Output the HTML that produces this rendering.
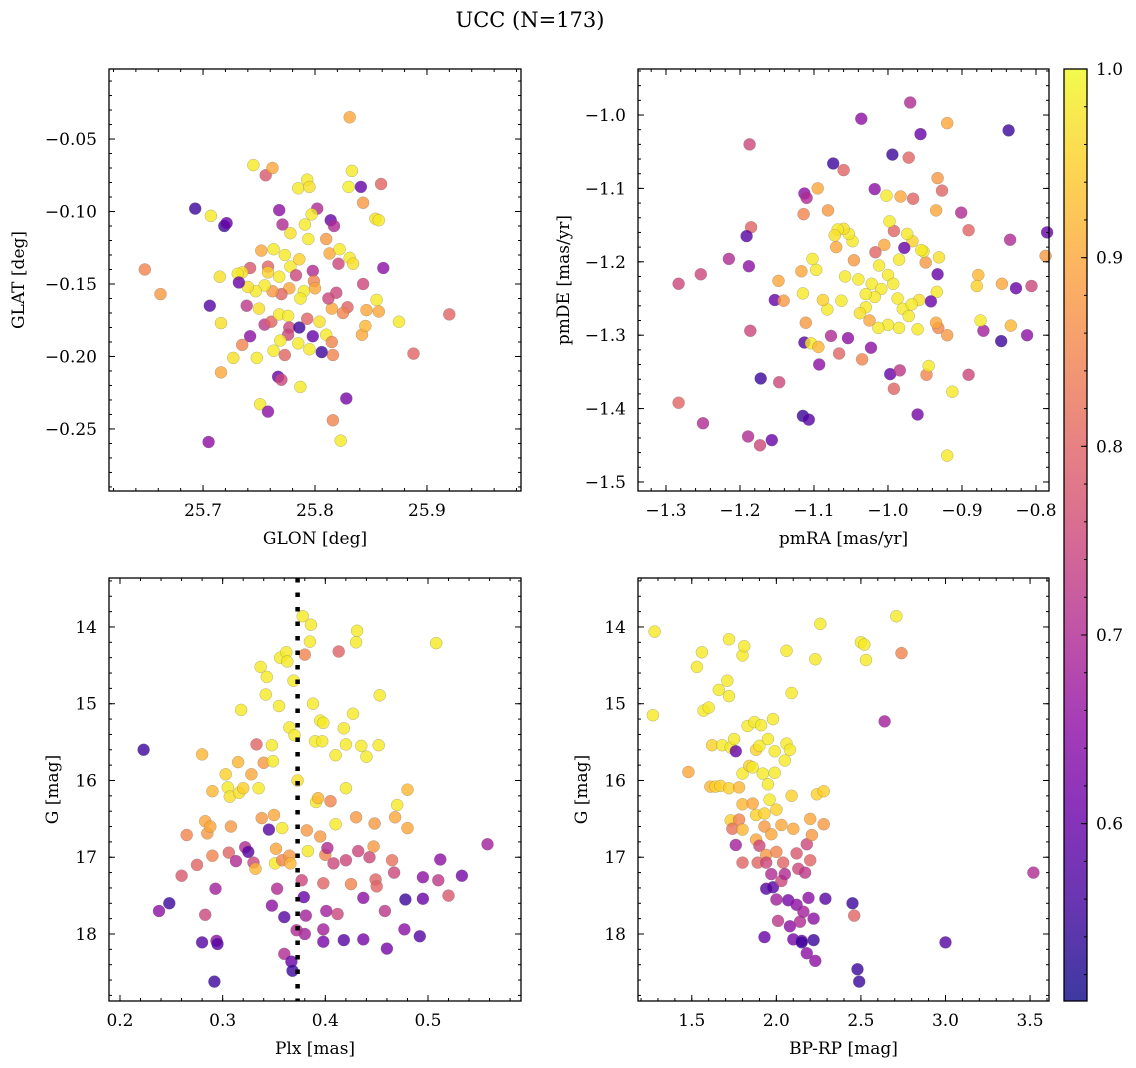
<!DOCTYPE html>
<html><head><meta charset="utf-8"><style>
body{margin:0;background:#fff;}
svg{display:block;font-family:"DejaVu Serif","Liberation Serif",serif;}
</style></head><body>
<svg id="fig" width="1136" height="1068" viewBox="0 0 1136 1068" xmlns="http://www.w3.org/2000/svg">
<rect width="1136" height="1068" fill="#fff"/>
<text x="530" y="27" font-size="21" text-anchor="middle">UCC (N=173)</text>
</svg>
<script>
// ---- data: [x, y, membership probability]
const glonGlat = [[25.831,-0.035,0.9],[25.648,-0.140,0.85],[25.662,-0.157,0.88],[25.693,-0.098,0.55],[25.707,-0.103,0.98],[25.719,-0.110,0.55],[25.721,-0.108,0.6],[25.706,-0.165,0.58],[25.715,-0.145,0.97],[25.716,-0.177,0.97],[25.716,-0.211,0.9],[25.705,-0.259,0.65],[25.727,-0.201,0.97],[25.745,-0.068,0.98],[25.756,-0.075,0.78],[25.762,-0.070,0.9],[25.785,-0.084,0.98],[25.793,-0.078,0.98],[25.795,-0.083,0.97],[25.830,-0.083,0.99],[25.833,-0.072,0.98],[25.843,-0.094,0.88],[25.841,-0.083,0.6],[25.859,-0.081,0.8],[25.854,-0.105,0.97],[25.857,-0.106,0.98],[25.814,-0.106,0.6],[25.817,-0.110,0.7],[25.802,-0.098,0.7],[25.797,-0.102,0.98],[25.791,-0.109,0.98],[25.768,-0.099,0.65],[25.771,-0.109,0.7],[25.778,-0.115,0.97],[25.794,-0.119,0.98],[25.810,-0.119,0.88],[25.813,-0.129,0.9],[25.822,-0.126,0.98],[25.831,-0.132,0.98],[25.834,-0.136,0.97],[25.821,-0.136,0.75],[25.752,-0.127,0.9],[25.763,-0.126,0.98],[25.742,-0.139,0.78],[25.735,-0.142,0.97],[25.731,-0.143,0.98],[25.758,-0.138,0.8],[25.768,-0.145,0.98],[25.778,-0.138,0.98],[25.783,-0.144,0.75],[25.798,-0.141,0.7],[25.799,-0.148,0.85],[25.861,-0.139,0.65],[25.843,-0.150,0.75],[25.855,-0.161,0.98],[25.846,-0.168,0.9],[25.857,-0.169,0.9],[25.875,-0.176,0.98],[25.920,-0.171,0.8],[25.888,-0.198,0.8],[25.829,-0.166,0.8],[25.825,-0.170,0.85],[25.815,-0.167,0.9],[25.812,-0.160,0.75],[25.819,-0.156,0.75],[25.800,-0.153,0.9],[25.790,-0.155,0.98],[25.787,-0.160,0.98],[25.777,-0.153,0.9],[25.770,-0.157,0.8],[25.762,-0.155,0.88],[25.755,-0.151,0.98],[25.747,-0.155,0.98],[25.740,-0.152,0.97],[25.732,-0.149,0.6],[25.739,-0.165,0.72],[25.750,-0.167,0.97],[25.755,-0.178,0.72],[25.761,-0.176,0.8],[25.768,-0.171,0.98],[25.776,-0.172,0.98],[25.777,-0.180,0.75],[25.786,-0.180,0.55],[25.793,-0.174,0.8],[25.798,-0.186,0.6],[25.804,-0.176,0.97],[25.810,-0.185,0.98],[25.815,-0.190,0.85],[25.816,-0.199,0.85],[25.806,-0.197,0.55],[25.795,-0.195,0.98],[25.785,-0.191,0.98],[25.776,-0.185,0.75],[25.769,-0.189,0.98],[25.763,-0.196,0.98],[25.773,-0.199,0.8],[25.742,-0.186,0.65],[25.735,-0.192,0.85],[25.748,-0.201,0.98],[25.751,-0.233,0.98],[25.758,-0.238,0.65],[25.767,-0.214,0.6],[25.770,-0.216,0.75],[25.787,-0.221,0.98],[25.816,-0.244,0.85],[25.823,-0.258,0.98],[25.828,-0.229,0.62],[25.842,-0.185,0.9],[25.845,-0.179,0.92],[25.786,-0.133,0.95],[25.773,-0.130,0.98],[25.758,-0.142,0.95]];
const pmRaDe = [[-0.970,-0.983,0.7],[-0.920,-1.011,0.9],[-1.036,-1.005,0.65],[-0.837,-1.021,0.55],[-0.956,-1.026,0.6],[-0.994,-1.054,0.55],[-1.187,-1.040,0.75],[-1.074,-1.066,0.55],[-1.060,-1.075,0.8],[-1.095,-1.100,0.9],[-1.113,-1.107,0.65],[-1.110,-1.113,0.7],[-1.018,-1.101,0.65],[-1.002,-1.110,0.98],[-0.972,-1.058,0.8],[-0.933,-1.086,0.88],[-0.927,-1.103,0.8],[-0.901,-1.133,0.7],[-0.935,-1.130,0.9],[-0.966,-1.114,0.8],[-0.983,-1.111,0.9],[-1.081,-1.130,0.88],[-1.114,-1.135,0.85],[-1.185,-1.153,0.8],[-1.191,-1.165,0.58],[-1.188,-1.206,0.65],[-1.253,-1.217,0.75],[-1.215,-1.196,0.7],[-1.283,-1.230,0.75],[-1.250,-1.420,0.7],[-1.283,-1.392,0.8],[-1.172,-1.359,0.55],[-1.147,-1.364,0.75],[-1.189,-1.438,0.7],[-1.173,-1.450,0.75],[-1.157,-1.443,0.6],[-1.115,-1.410,0.55],[-1.107,-1.415,0.58],[-1.113,-1.310,0.58],[-1.093,-1.340,0.65],[-1.186,-1.294,0.75],[-1.153,-1.252,0.6],[-1.148,-1.226,0.9],[-1.141,-1.253,0.88],[-1.111,-1.283,0.88],[-1.104,-1.311,0.98],[-1.094,-1.316,0.92],[-1.077,-1.301,0.7],[-1.066,-1.325,0.8],[-1.054,-1.304,0.65],[-1.035,-1.333,0.85],[-1.023,-1.317,0.65],[-0.997,-1.353,0.6],[-0.992,-1.373,0.8],[-0.984,-1.348,0.72],[-0.960,-1.408,0.62],[-0.920,-1.464,0.98],[-0.913,-1.377,0.98],[-0.948,-1.354,0.85],[-0.945,-1.342,0.98],[-0.891,-1.354,0.75],[-0.871,-1.294,0.68],[-0.875,-1.280,0.98],[-0.834,-1.287,0.92],[-0.812,-1.300,0.65],[-0.847,-1.308,0.55],[-0.827,-1.236,0.6],[-0.806,-1.233,0.75],[-0.787,-1.192,0.88],[-0.785,-1.160,0.6],[-0.835,-1.170,0.7],[-0.846,-1.230,0.9],[-0.878,-1.218,0.92],[-0.880,-1.233,0.95],[-0.891,-1.157,0.8],[-0.931,-1.194,0.97],[-0.933,-1.217,0.6],[-0.934,-1.241,0.98],[-0.942,-1.254,0.6],[-0.932,-1.290,0.85],[-0.935,-1.283,0.9],[-0.920,-1.300,0.88],[-0.949,-1.201,0.88],[-0.952,-1.186,0.98],[-0.955,-1.184,0.98],[-0.958,-1.252,0.97],[-0.967,-1.172,0.95],[-0.974,-1.162,0.98],[-0.978,-1.181,0.6],[-0.985,-1.197,0.98],[-0.992,-1.158,0.8],[-0.998,-1.145,0.98],[-1.005,-1.177,0.9],[-1.012,-1.205,0.98],[-1.017,-1.187,0.8],[-1.022,-1.230,0.98],[-1.030,-1.262,0.98],[-1.038,-1.270,0.97],[-1.040,-1.224,0.98],[-1.046,-1.198,0.88],[-1.048,-1.172,0.98],[-1.053,-1.162,0.98],[-1.060,-1.155,0.97],[-1.068,-1.156,0.98],[-1.072,-1.164,0.97],[-1.070,-1.180,0.9],[-1.058,-1.220,0.98],[-1.063,-1.253,0.98],[-1.082,-1.265,0.98],[-1.088,-1.252,0.95],[-1.097,-1.211,0.98],[-1.102,-1.196,0.98],[-1.117,-1.213,0.9],[-1.115,-1.243,0.98],[-1.000,-1.218,0.98],[-0.993,-1.230,0.98],[-0.987,-1.250,0.98],[-0.980,-1.264,0.98],[-1.009,-1.237,0.98],[-1.018,-1.248,0.98],[-1.030,-1.244,0.98],[-1.000,-1.286,0.98],[-0.985,-1.290,0.98],[-0.972,-1.274,0.98],[-0.968,-1.258,0.98],[-1.013,-1.290,0.98],[-1.025,-1.280,0.9],[-0.960,-1.292,0.98]];
const plxG = [[0.223,15.60,0.55],[0.238,17.70,0.65],[0.248,17.60,0.55],[0.260,17.24,0.78],[0.265,16.71,0.85],[0.275,17.10,0.8],[0.280,18.11,0.58],[0.283,17.75,0.75],[0.280,15.66,0.92],[0.283,16.53,0.9],[0.285,16.69,0.88],[0.288,16.60,0.9],[0.290,16.98,0.85],[0.293,17.41,0.68],[0.294,18.09,0.65],[0.295,18.13,0.58],[0.292,18.62,0.55],[0.290,16.14,0.92],[0.303,15.92,0.95],[0.305,16.09,0.98],[0.307,16.21,0.97],[0.308,16.60,0.88],[0.306,16.94,0.8],[0.313,17.05,0.7],[0.315,15.76,0.92],[0.316,16.16,0.97],[0.318,15.08,0.98],[0.320,16.10,0.95],[0.322,16.87,0.7],[0.325,16.93,0.58],[0.328,15.92,0.9],[0.330,17.07,0.75],[0.332,17.15,0.92],[0.333,15.53,0.8],[0.337,14.52,0.98],[0.338,16.49,0.88],[0.340,15.77,0.88],[0.342,14.88,0.98],[0.343,14.65,0.98],[0.345,16.64,0.58],[0.348,15.54,0.98],[0.349,15.75,0.98],[0.350,16.45,0.9],[0.351,17.08,0.98],[0.353,17.41,0.7],[0.352,16.89,0.9],[0.355,15.03,0.98],[0.356,14.40,0.98],[0.358,16.62,0.98],[0.358,17.04,0.85],[0.360,17.78,0.58],[0.360,18.26,0.7],[0.362,14.33,0.98],[0.363,14.45,0.98],[0.365,15.31,0.98],[0.365,16.98,0.88],[0.366,17.08,0.92],[0.367,18.36,0.6],[0.368,18.48,0.55],[0.369,14.70,0.98],[0.370,15.41,0.98],[0.373,16.00,0.97],[0.377,17.30,0.75],[0.379,17.52,0.6],[0.380,18.00,0.68],[0.381,17.76,0.68],[0.378,13.86,0.98],[0.380,14.36,0.85],[0.382,16.65,0.88],[0.383,16.92,0.98],[0.385,14.19,0.98],[0.386,13.97,0.98],[0.388,15.00,0.98],[0.390,15.49,0.98],[0.391,16.28,0.98],[0.393,16.23,0.92],[0.395,15.22,0.98],[0.398,15.25,0.98],[0.397,15.49,0.98],[0.395,16.73,0.88],[0.398,17.34,0.8],[0.400,16.97,0.85],[0.402,16.88,0.7],[0.401,17.70,0.68],[0.398,17.94,0.68],[0.398,18.10,0.62],[0.405,16.27,0.85],[0.408,17.08,0.75],[0.410,15.67,0.98],[0.410,16.57,0.98],[0.412,17.74,0.75],[0.413,14.32,0.8],[0.418,15.32,0.98],[0.420,15.53,0.98],[0.420,17.04,0.75],[0.418,18.08,0.58],[0.420,16.10,0.98],[0.425,17.35,0.85],[0.427,15.13,0.98],[0.430,14.20,0.98],[0.431,14.05,0.98],[0.430,16.48,0.88],[0.432,16.92,0.75],[0.435,15.55,0.98],[0.437,17.53,0.65],[0.437,18.07,0.62],[0.440,15.69,0.98],[0.443,17.00,0.75],[0.447,16.86,0.88],[0.448,16.56,0.88],[0.449,17.29,0.8],[0.450,17.38,0.8],[0.452,15.54,0.98],[0.453,14.89,0.98],[0.458,17.70,0.72],[0.460,18.19,0.62],[0.465,17.04,0.82],[0.467,17.20,0.75],[0.468,16.48,0.9],[0.470,16.32,0.98],[0.477,17.94,0.65],[0.478,17.55,0.55],[0.480,16.62,0.9],[0.480,16.12,0.92],[0.492,18.03,0.58],[0.495,17.26,0.65],[0.495,17.54,0.6],[0.508,14.21,0.98],[0.510,17.30,0.72],[0.512,17.03,0.65],[0.520,17.50,0.78],[0.533,17.24,0.62],[0.558,16.83,0.68],[0.348,17.63,0.65],[0.372,17.95,0.7],[0.335,16.10,0.98]];
const bprpG = [[1.28,14.06,0.98],[1.27,15.15,0.98],[1.48,15.89,0.9],[1.53,14.52,0.98],[1.56,14.33,0.98],[1.57,15.09,0.98],[1.60,15.05,0.98],[1.62,15.54,0.95],[1.61,16.08,0.92],[1.64,16.08,0.95],[1.66,14.82,0.98],[1.68,15.54,0.98],[1.67,16.07,0.95],[1.72,14.16,0.98],[1.71,14.70,0.98],[1.72,14.90,0.98],[1.73,15.57,0.98],[1.72,16.10,0.95],[1.73,16.52,0.95],[1.74,16.63,0.82],[1.75,15.46,0.98],[1.76,15.62,0.6],[1.78,16.09,0.92],[1.78,16.51,0.85],[1.76,16.84,0.68],[1.80,14.37,0.98],[1.81,14.25,0.98],[1.80,15.91,0.98],[1.80,16.31,0.92],[1.80,16.64,0.92],[1.80,17.07,0.8],[1.83,15.29,0.98],[1.84,15.81,0.95],[1.86,15.83,0.98],[1.86,16.30,0.9],[1.87,15.24,0.98],[1.88,15.60,0.95],[1.88,16.45,0.95],[1.88,16.77,0.9],[1.89,17.07,0.8],[1.90,15.55,0.98],[1.90,16.85,0.75],[1.91,15.28,0.98],[1.92,15.91,0.98],[1.93,16.43,0.95],[1.93,16.60,0.88],[1.94,16.97,0.88],[1.94,17.07,0.75],[1.94,17.41,0.58],[1.93,18.04,0.6],[1.95,15.46,0.98],[1.95,16.05,0.98],[1.96,16.25,0.98],[1.97,16.70,0.9],[1.97,17.22,0.7],[1.98,17.39,0.58],[1.98,15.20,0.98],[1.99,15.62,0.98],[1.99,15.90,0.98],[2.00,16.38,0.95],[2.00,16.93,0.85],[2.00,17.55,0.68],[2.01,17.83,0.72],[2.03,17.31,0.75],[2.03,16.58,0.9],[2.04,17.07,0.8],[2.05,17.22,0.7],[2.05,15.74,0.98],[2.06,15.52,0.98],[2.06,14.31,0.98],[2.07,17.56,0.62],[2.08,17.90,0.65],[2.08,15.60,0.98],[2.09,16.20,0.95],[2.09,14.86,0.98],[2.10,16.63,0.9],[2.10,18.07,0.62],[2.12,17.62,0.65],[2.12,16.95,0.78],[2.13,17.15,0.75],[2.14,17.84,0.7],[2.15,18.09,0.6],[2.15,18.11,0.55],[2.16,17.71,0.68],[2.17,17.20,0.72],[2.18,16.83,0.75],[2.18,18.25,0.65],[2.19,17.53,0.65],[2.20,16.50,0.9],[2.20,17.04,0.8],[2.21,16.71,0.88],[2.22,17.80,0.65],[2.22,18.08,0.55],[2.23,14.42,0.98],[2.23,18.35,0.65],[2.24,16.18,0.95],[2.26,13.96,0.98],[2.28,16.14,0.95],[2.29,17.54,0.58],[2.28,16.57,0.88],[2.45,17.60,0.55],[2.46,17.76,0.8],[2.48,18.46,0.55],[2.49,18.62,0.55],[2.50,14.20,0.98],[2.52,14.23,0.98],[2.53,14.43,0.98],[2.64,15.23,0.68],[2.71,13.86,0.98],[2.74,14.34,0.85],[3.00,18.11,0.58],[3.52,17.20,0.7]];
const plxMedian = 0.373;
const glonTicks = [25.7,25.8,25.9];
const glatTicks = [-0.05,-0.10,-0.15,-0.20,-0.25];
const pmraTicks = [-1.3,-1.2,-1.1,-1.0,-0.9,-0.8];
const pmdeTicks = [-1.0,-1.1,-1.2,-1.3,-1.4,-1.5];
const plxTicks = [0.2,0.3,0.4,0.5];
const gTicks = [14,15,16,17,18];
const bprpTicks = [1.5,2.0,2.5,3.0,3.5];
const cbarTicks = [0.6,0.7,0.8,0.9,1.0];

const svg = document.getElementById('fig');
const NS = 'http://www.w3.org/2000/svg';
const FS = 17;
function mk(tag, attrs, parent){const e=document.createElementNS(NS,tag);for(const k in attrs)e.setAttribute(k,attrs[k]);(parent||svg).appendChild(e);return e;}
const stops=[[13,8,135],[65,4,157],[106,0,168],[143,13,164],[177,42,144],[204,71,120],[225,100,98],[242,132,75],[252,166,54],[252,206,37],[240,249,33]];
const VMIN=0.506,VMAX=1.0;
function cmap(v){let t=Math.max(0,Math.min(1,(v-VMIN)/(VMAX-VMIN)))*10;const i=Math.min(9,Math.floor(t)),f=t-i;const a=stops[i],b=stops[i+1];return 'rgb('+a.map((c,k)=>Math.round(c+(b[k]-c)*f)).join(',')+')';}
function fmt(v,d){return (v<0?'\u2212':'')+Math.abs(v).toFixed(d);}

function panel(o){
  const g=mk('g',{});
  
  
  const sx=v=>o.x0+(v-o.xmin)/(o.xmax-o.xmin)*(o.x1-o.x0);
  const sy=v=>o.inv? o.y0+(v-o.ymin)/(o.ymax-o.ymin)*(o.y1-o.y0) : o.y1-(v-o.ymin)/(o.ymax-o.ymin)*(o.y1-o.y0);
  const pg=mk('g',{},g);
  
  
  o.data.forEach(d=>{
    const c=mk('circle',{cx:sx(d[0]).toFixed(1),cy:sy(d[1]).toFixed(1),r:6,fill:cmap(d[2]),'fill-opacity':0.8,stroke:'#666','stroke-width':0.4,'stroke-opacity':0.6},pg);
    
    
  });
  if(o.vline!==undefined){
    const l=mk('line',{x1:sx(o.vline),x2:sx(o.vline),y1:o.y0,y2:o.y1,stroke:'#000','stroke-width':4.5,'stroke-dasharray':'4.5 10'},g);
    
    
  }
  const fr=mk('rect',{x:o.x0,y:o.y0,width:o.x1-o.x0,height:o.y1-o.y0,fill:'none',stroke:'#000','stroke-width':1.3},g);
  
  
  for(let v=Math.ceil(o.xmin/o.xminor)*o.xminor; v<=o.xmax; v+=o.xminor){const p=sx(v);
    mk('line',{x1:p,x2:p,y1:o.y1,y2:o.y1-3,stroke:'#000'},g);mk('line',{x1:p,x2:p,y1:o.y0,y2:o.y0+3,stroke:'#000'},g);}
  for(let v=Math.ceil(o.ymin/o.yminor)*o.yminor; v<=o.ymax; v+=o.yminor){const p=sy(v);
    mk('line',{x1:o.x0,x2:o.x0+3,y1:p,y2:p,stroke:'#000'},g);mk('line',{x1:o.x1,x2:o.x1-3,y1:p,y2:p,stroke:'#000'},g);}
  o.xt.forEach(v=>{const p=sx(v);
    mk('line',{x1:p,x2:p,y1:o.y1,y2:o.y1-6,stroke:'#000'},g);mk('line',{x1:p,x2:p,y1:o.y0,y2:o.y0+6,stroke:'#000'},g);
    const t=mk('text',{x:p,y:o.y1+25,'font-size':FS,'text-anchor':'middle'},g);t.textContent=fmt(v,o.xd);
    });
  o.yt.forEach(v=>{const p=sy(v);
    mk('line',{x1:o.x0,x2:o.x0+6,y1:p,y2:p,stroke:'#000'},g);mk('line',{x1:o.x1,x2:o.x1-6,y1:p,y2:p,stroke:'#000'},g);
    const t=mk('text',{x:o.x0-12,y:p+6,'font-size':FS,'text-anchor':'end'},g);t.textContent=fmt(v,o.yd);
    });
  const xl=mk('text',{x:(o.x0+o.x1)/2,y:o.y1+53,'font-size':FS,'text-anchor':'middle'},g);xl.textContent=o.xlab;
  
  const yl=mk('text',{x:0,y:0,'font-size':FS,'text-anchor':'middle',transform:'translate('+o.ylx+','+((o.y0+o.y1)/2)+') rotate(-90)'},g);yl.textContent=o.ylab;
  
}
panel({name:'glon-glat-panel',data:glonGlat,x0:109,x1:521,y0:69,y1:491,xmin:25.616,xmax:25.984,ymin:-0.2928,ymax:-0.0017,xminor:0.02,yminor:0.01,xt:glonTicks,yt:glatTicks,xd:1,yd:2,xlab:'GLON [deg]',ylab:'GLAT [deg]',ylx:24});
panel({name:'pm-panel',data:pmRaDe,x0:638,x1:1049,y0:69,y1:491,xmin:-1.3378,xmax:-0.7824,ymin:-1.5123,ymax:-0.9373,xminor:0.02,yminor:0.02,xt:pmraTicks,yt:pmdeTicks,xd:1,yd:1,xlab:'pmRA [mas/yr]',ylab:'pmDE [mas/yr]',ylx:569});
panel({name:'plx-g-panel',data:plxG,x0:109,x1:521,y0:578,y1:1001,xmin:0.1893,xmax:0.5906,ymin:13.362,ymax:18.873,inv:true,xminor:0.02,yminor:0.2,xt:plxTicks,yt:gTicks,xd:1,yd:0,xlab:'Plx [mas]',ylab:'G [mag]',ylx:58,vline:plxMedian});
panel({name:'cmd-panel',data:bprpG,x0:638,x1:1049,y0:578,y1:1001,xmin:1.182,xmax:3.612,ymin:13.362,ymax:18.873,inv:true,xminor:0.1,yminor:0.2,xt:bprpTicks,yt:gTicks,xd:1,yd:0,xlab:'BP-RP [mag]',ylab:'G [mag]',ylx:587});

const cb=mk('g',{});


const defs=mk('defs',{},cb);
const lg=mk('linearGradient',{id:'cbg',x1:0,y1:1,x2:0,y2:0},defs);
stops.forEach((s,i)=>mk('stop',{offset:(i/10),'stop-color':'rgb('+s.join(',')+')'},lg));
const CX0=1064,CX1=1087,CY0=69,CY1=1001;
mk('rect',{x:CX0,y:CY0,width:CX1-CX0,height:CY1-CY0,fill:'url(#cbg)','fill-opacity':0.8},cb);
mk('rect',{x:CX0,y:CY0,width:CX1-CX0,height:CY1-CY0,fill:'none',stroke:'#000','stroke-width':1.3},cb);
const cy=v=>CY1-(v-VMIN)/(VMAX-VMIN)*(CY1-CY0);
for(let v=0.52; v<=1.0001; v+=0.02){const p=cy(v);mk('line',{x1:CX1,x2:CX1-3,y1:p,y2:p,stroke:'#000'},cb);}
cbarTicks.forEach(v=>{const p=cy(v);mk('line',{x1:CX1,x2:CX1-6,y1:p,y2:p,stroke:'#000'},cb);
  const t=mk('text',{x:CX1+9,y:p+6,'font-size':FS},cb);t.textContent=v.toFixed(1);
  });
</script>
</body></html>
